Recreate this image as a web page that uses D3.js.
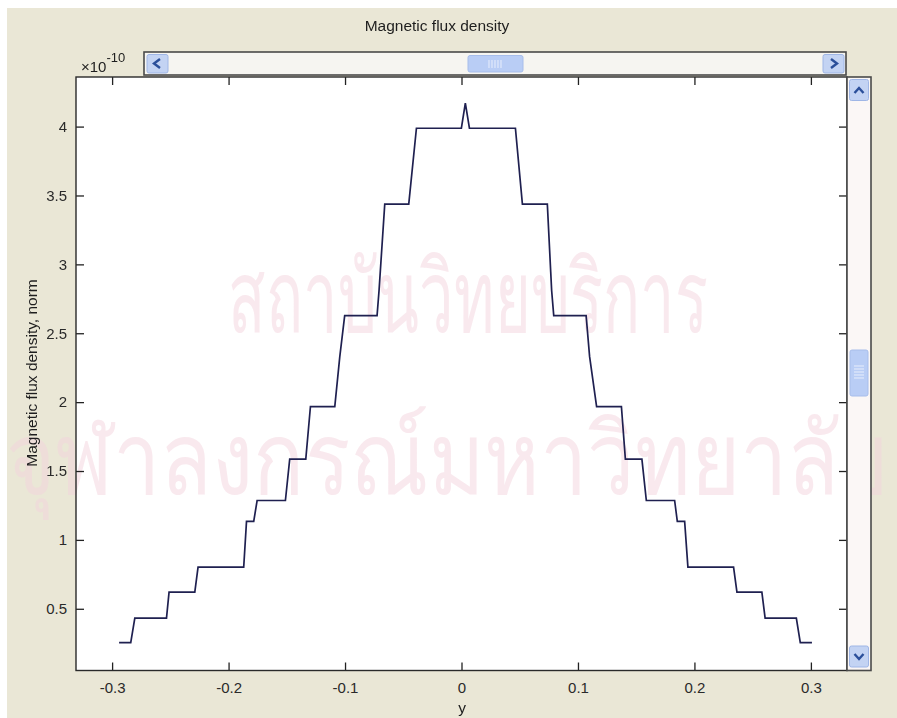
<!DOCTYPE html>
<html>
<head>
<meta charset="utf-8">
<script src="https://cdn.jsdelivr.net/npm/d3@7"></script>
<style>
  html, body { margin: 0; padding: 0; background: #ffffff; }
  svg { display: block; }
  text { font-family: "Liberation Sans", Arial, sans-serif; fill: #1e1e1e; }
</style>
</head>
<body>
<svg id="chart" width="897" height="718"></svg>
<script>
// ---- Data ----
const titleText = "Magnetic flux density";
const xLabelText = "y";
const yLabelText = "Magnetic flux density, norm";
const exponentBase = "\u00d710";
const exponentPower = "-10";
const watermarkLines = ["สถาบันวิทยบริการ", "จุฬาลงกรณ์มหาวิทยาลัย"];

const xDomain = [-0.331, 0.331];
const yDomain = [0.052, 4.36];
const xTicks = [-0.3, -0.2, -0.1, 0, 0.1, 0.2, 0.3];
const xTickLabels = ["-0.3", "-0.2", "-0.1", "0", "0.1", "0.2", "0.3"];
const yTicks = [0.5, 1, 1.5, 2, 2.5, 3, 3.5, 4];
const yTickLabels = ["0.5", "1", "1.5", "2", "2.5", "3", "3.5", "4"];

// y position along the line (x axis) and flux density norm (x 1e-10)
const curveX = [
  -0.2940, -0.2840, -0.2805, -0.2533, -0.2511, -0.2290, -0.2262, -0.1870,
  -0.1846, -0.1784, -0.1755, -0.1512, -0.1475, -0.1337, -0.1297, -0.1088,
  -0.1045, -0.1003, -0.0725, -0.0708, -0.0659, -0.0453, -0.0387, -0.0001,
   0.0033,  0.0068,  0.0463,  0.0523,  0.0737,  0.0774,  0.0792,  0.1070,
   0.1100,  0.1160,  0.1373,  0.1407,  0.1549,  0.1587,  0.1830,  0.1853,
   0.1916,  0.1944,  0.2336,  0.2365,  0.2579,  0.2607,  0.2875,  0.2909,
   0.3009
];
const curveY = [
  0.255, 0.255, 0.4325, 0.4325, 0.621, 0.621, 0.803, 0.803,
  1.134, 1.134, 1.286, 1.286, 1.586, 1.586, 1.968, 1.968,
  2.33, 2.628, 2.628, 2.81, 3.437, 3.437, 3.988, 3.988,
  4.170, 3.988, 3.988, 3.437, 3.437, 2.81, 2.628, 2.628,
  2.33, 1.968, 1.968, 1.586, 1.586, 1.286, 1.286, 1.134,
  1.134, 0.803, 0.803, 0.621, 0.621, 0.4325, 0.4325, 0.255,
  0.255
];

// ---- Layout ----
const W = 897, H = 718;
const plot = { left: 76, top: 77, right: 847, bottom: 670.5 };

const svg = d3.select("#chart");

// figure background
svg.append("rect").attr("x", 0).attr("y", 0).attr("width", W).attr("height", H).attr("fill", "#ffffff");
svg.append("rect").attr("x", 7).attr("y", 8).attr("width", W - 7).attr("height", H - 8).attr("fill", "#EAE7D6");

// plot area
svg.append("rect")
  .attr("x", plot.left).attr("y", plot.top)
  .attr("width", plot.right - plot.left).attr("height", plot.bottom - plot.top)
  .attr("fill", "#ffffff");

// faint watermark (horizontally condensed to the reference's width)
const wm = svg.append("g").attr("opacity", 0.5);
const wmSpec = [
  { text: watermarkLines[0], x: 228, y: 332, width: 478 },
  { text: watermarkLines[1], x: 6, y: 494, width: 884 }
];
wmSpec.forEach(s => {
  const t = wm.append("text").attr("x", 0).attr("y", 0)
    .style("font-family", "'Noto Sans', 'DejaVu Sans', sans-serif")
    .style("font-size", "100px").style("fill", "#f3d3dd").text(s.text);
  const natural = t.node().getComputedTextLength() || s.width;
  t.attr("transform", `translate(${s.x},${s.y}) scale(${s.width / natural},1)`);
});

const x = d3.scaleLinear().domain(xDomain).range([plot.left, plot.right]);
const y = d3.scaleLinear().domain(yDomain).range([plot.bottom, plot.top]);

const tickLen = 8;
// bottom axis (ticks inward)
const xAxisBottom = d3.axisBottom(x).tickValues(xTicks)
  .tickFormat((d, i) => xTickLabels[i]).tickSizeInner(-tickLen).tickSizeOuter(0).tickPadding(12);
const gxb = svg.append("g").attr("transform", `translate(0,${plot.bottom})`).call(xAxisBottom);
// top axis mirror ticks
const xAxisTop = d3.axisTop(x).tickValues(xTicks).tickFormat("").tickSizeInner(-tickLen).tickSizeOuter(0);
const gxt = svg.append("g").attr("transform", `translate(0,${plot.top})`).call(xAxisTop);
// left axis
const yAxisLeft = d3.axisLeft(y).tickValues(yTicks)
  .tickFormat((d, i) => yTickLabels[i]).tickSizeInner(-tickLen).tickSizeOuter(0).tickPadding(9);
const gyl = svg.append("g").attr("transform", `translate(${plot.left},0)`).call(yAxisLeft);
// right axis mirror
const yAxisRight = d3.axisRight(y).tickValues(yTicks).tickFormat("").tickSizeInner(-tickLen).tickSizeOuter(0);
const gyr = svg.append("g").attr("transform", `translate(${plot.right},0)`).call(yAxisRight);

[gxb, gxt, gyl, gyr].forEach(g => {
  g.select(".domain").remove();
  g.selectAll(".tick line").attr("stroke", "#222").attr("stroke-width", 1.3);
  g.selectAll(".tick text").style("font-size", "15px").style("fill", "#2a2a2a")
    .style("font-family", "'Liberation Sans', Arial, sans-serif");
});

// the curve
const line = d3.line().x(d => x(d[0])).y(d => y(d[1]));
const pts = curveX.map((v, i) => [v, curveY[i]]);
svg.append("path").datum(pts).attr("d", line)
  .attr("fill", "none").attr("stroke", "#1f2050").attr("stroke-width", 1.7)
  .attr("stroke-linejoin", "miter");

// axes box
svg.append("rect")
  .attr("x", plot.left).attr("y", plot.top)
  .attr("width", plot.right - plot.left).attr("height", plot.bottom - plot.top)
  .attr("fill", "none").attr("stroke", "#2a2a2a").attr("stroke-width", 1.4);

// ---- scrollbars (decorative GUI) ----
const btnFill = "#c3d3f3", btnStroke = "#9fb6e6", chevron = "#2b4f9a";
// horizontal
const hs = svg.append("g");
hs.append("rect").attr("x", 144).attr("y", 52).attr("width", 702).attr("height", 23)
  .attr("fill", "#f6f5f1").attr("stroke", "#4a4a4a").attr("stroke-width", 1.6);
hs.append("rect").attr("x", 147).attr("y", 54.5).attr("width", 21).attr("height", 18.5).attr("rx", 2)
  .attr("fill", btnFill).attr("stroke", btnStroke);
hs.append("path").attr("d", "M160,59 L154,63.5 L160,68").attr("fill", "none").attr("stroke", chevron).attr("stroke-width", 2.4);
hs.append("rect").attr("x", 823).attr("y", 54.5).attr("width", 21).attr("height", 18.5).attr("rx", 2)
  .attr("fill", btnFill).attr("stroke", btnStroke);
hs.append("path").attr("d", "M831,59 L837,63.5 L831,68").attr("fill", "none").attr("stroke", chevron).attr("stroke-width", 2.4);
hs.append("rect").attr("x", 468).attr("y", 55.5).attr("width", 55).attr("height", 16.5).attr("rx", 2)
  .attr("fill", "#b9cdf5").attr("stroke", "#a7bdea");
[489, 492, 495, 498, 501].forEach(gx => hs.append("line").attr("x1", gx).attr("x2", gx).attr("y1", 60).attr("y2", 68)
  .attr("stroke", "#e8eefc").attr("stroke-width", 1));

// vertical
const vs = svg.append("g");
vs.append("rect").attr("x", 847).attr("y", 77).attr("width", 24).attr("height", 593.5)
  .attr("fill", "#fbf7f6").attr("stroke", "#4a4a4a").attr("stroke-width", 1.6);
vs.append("rect").attr("x", 849.5).attr("y", 79.5).attr("width", 19).attr("height", 21).attr("rx", 2)
  .attr("fill", btnFill).attr("stroke", btnStroke);
vs.append("path").attr("d", "M854.5,93 L859,88 L863.5,93").attr("fill", "none").attr("stroke", chevron).attr("stroke-width", 2.4);
vs.append("rect").attr("x", 849.5).attr("y", 646).attr("width", 19).attr("height", 21).attr("rx", 2)
  .attr("fill", btnFill).attr("stroke", btnStroke);
vs.append("path").attr("d", "M854.5,654 L859,659 L863.5,654").attr("fill", "none").attr("stroke", chevron).attr("stroke-width", 2.4);
vs.append("rect").attr("x", 850).attr("y", 350).attr("width", 18).attr("height", 46).attr("rx", 2)
  .attr("fill", "#b9cdf5").attr("stroke", "#a7bdea");
[366, 369, 372, 375, 378].forEach(gy => vs.append("line").attr("x1", 854).attr("x2", 864).attr("y1", gy).attr("y2", gy)
  .attr("stroke", "#e8eefc").attr("stroke-width", 1));

// ---- texts ----
svg.append("text").attr("x", 437).attr("y", 31).attr("text-anchor", "middle")
  .style("font-size", "15.5px").text(titleText);

svg.append("text").attr("x", 462).attr("y", 713).attr("text-anchor", "middle")
  .style("font-size", "15.5px").text(xLabelText);

svg.append("text")
  .attr("transform", `translate(37,373) rotate(-90)`)
  .attr("text-anchor", "middle").style("font-size", "15.5px").text(yLabelText);

const expo = svg.append("text").attr("x", 81).attr("y", 72).style("font-size", "15px");
expo.append("tspan").text(exponentBase);
expo.append("tspan").attr("dy", -10).style("font-size", "13px").text(exponentPower);
</script>
</body>
</html>
